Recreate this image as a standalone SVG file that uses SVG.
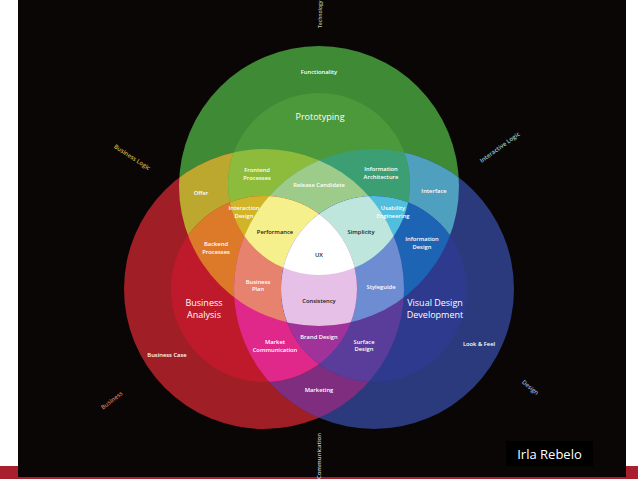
<svg xmlns="http://www.w3.org/2000/svg" width="638" height="479" viewBox="0 0 638 479">
<defs>
<style>
.l{font-family:"Open Sans","Liberation Sans",sans-serif;font-size:5.8px;font-weight:600;fill:#ffffff;text-anchor:middle}
.d{fill:#1a1a1a}
.b{font-size:9px;font-weight:400}
.ax{font-family:"Open Sans","Liberation Sans",sans-serif;font-size:6px;font-weight:600;text-anchor:middle}
.st{text-anchor:start}
</style>
<clipPath id="cGO"><circle cx="319" cy="186" r="140"/></clipPath>
<clipPath id="cRO"><circle cx="264" cy="289" r="140"/></clipPath>
<clipPath id="cBO"><circle cx="374" cy="289" r="140"/></clipPath>
<clipPath id="cRI"><circle cx="264" cy="289" r="93"/></clipPath>
<clipPath id="cBI"><circle cx="374" cy="289" r="93"/></clipPath>
<circle id="go" cx="319" cy="186" r="140"/>
<circle id="ro" cx="264" cy="289" r="140"/>
<circle id="bo" cx="374" cy="289" r="140"/>
<circle id="gi" cx="319" cy="184" r="91"/>
<circle id="ri" cx="264" cy="289" r="93"/>
<circle id="bi" cx="374" cy="289" r="93"/>
</defs>
<rect x="0" y="0" width="638" height="479" fill="#ffffff"/>
<rect x="0" y="466" width="638" height="13" fill="#a8202e"/>
<rect x="18" y="0" width="608" height="477" fill="#0a0606"/>

<g id="outer-circles">
<use href="#go" fill="#3f8a34"/>
<use href="#ro" fill="#a01e26"/>
<use href="#bo" fill="#2b3a7c"/>
<g clip-path="url(#cRO)"><use href="#go" fill="#bca82e"/></g>
<g clip-path="url(#cBO)"><use href="#go" fill="#4f9fbf"/></g>
<g clip-path="url(#cBO)"><use href="#ro" fill="#7f2d7f"/></g>
<g clip-path="url(#cRO)"><g clip-path="url(#cBO)"><use href="#go" fill="#b0a890"/></g></g>
</g>

<g id="inner-circles">
<use href="#gi" fill="#4c993c"/>
<g clip-path="url(#cRO)"><use href="#gi" fill="#8dbb3c"/></g>
<g clip-path="url(#cBO)"><use href="#gi" fill="#3c9f74"/></g>
<g clip-path="url(#cRO)"><g clip-path="url(#cBO)"><use href="#gi" fill="#9ccb8a"/></g></g>
<use href="#ri" fill="#be1a2c"/>
<g clip-path="url(#cGO)"><use href="#ri" fill="#dd7a2a"/></g>
<g clip-path="url(#cBO)"><use href="#ri" fill="#e0288a"/></g>
<g clip-path="url(#cGO)"><g clip-path="url(#cBO)"><use href="#ri" fill="#e6826e"/></g></g>
<use href="#bi" fill="#2d3a8e"/>
<g clip-path="url(#cGO)"><use href="#bi" fill="#1e64b4"/></g>
<g clip-path="url(#cRO)"><use href="#bi" fill="#5a3c9a"/></g>
<g clip-path="url(#cGO)"><g clip-path="url(#cRO)"><use href="#bi" fill="#6e8cd2"/></g></g>
<g clip-path="url(#cRI)"><use href="#gi" fill="#d2b428"/></g>
<g clip-path="url(#cRI)"><g clip-path="url(#cBO)"><use href="#gi" fill="#f5f08c"/></g></g>
<g clip-path="url(#cBI)"><use href="#gi" fill="#50bedc"/></g>
<g clip-path="url(#cBI)"><g clip-path="url(#cRO)"><use href="#gi" fill="#bee6dc"/></g></g>
<g clip-path="url(#cBI)"><use href="#ri" fill="#a0329a"/></g>
<g clip-path="url(#cBI)"><g clip-path="url(#cGO)"><use href="#ri" fill="#e6c0e6"/></g></g>
<g clip-path="url(#cRI)"><g clip-path="url(#cBI)"><use href="#gi" fill="#ffffff"/></g></g>
</g>

<g id="labels">
<text class="l" x="319" y="74">Functionality</text>
<text class="l b" x="320" y="120">Prototyping</text>
<text class="l" x="257" y="172">Frontend</text>
<text class="l" x="257" y="180">Processes</text>
<text class="l" x="381" y="171">Information</text>
<text class="l" x="381" y="179">Architecture</text>
<text class="l" x="201" y="195">Offer</text>
<text class="l" x="319" y="187">Release Candidate</text>
<text class="l" x="434" y="193">Interface</text>
<text class="l" x="244" y="210">Interaction</text>
<text class="l" x="244" y="218">Design</text>
<text class="l" x="393" y="210">Usability</text>
<text class="l" x="393" y="218">Engineering</text>
<text class="l d" x="275" y="234">Performance</text>
<text class="l d" x="361" y="234">Simplicity</text>
<text class="l" x="216" y="246">Backend</text>
<text class="l" x="216" y="254">Processes</text>
<text class="l" x="422" y="241">Information</text>
<text class="l" x="422" y="249">Design</text>
<text class="l d" x="319" y="257">UX</text>
<text class="l" x="258" y="284">Business</text>
<text class="l" x="258" y="291">Plan</text>
<text class="l" x="381" y="289">Styleguide</text>
<text class="l d" x="319" y="303">Consistency</text>
<text class="l b" x="204" y="306">Business</text>
<text class="l b" x="204" y="318">Analysis</text>
<text class="l b" x="435" y="306">Visual Design</text>
<text class="l b" x="435" y="318">Development</text>
<text class="l" x="319" y="339">Brand Design</text>
<text class="l" x="275" y="344">Market</text>
<text class="l" x="275" y="352">Communication</text>
<text class="l" x="364" y="344">Surface</text>
<text class="l" x="364" y="351">Design</text>
<text class="l" x="167" y="357">Business Case</text>
<text class="l" x="479" y="346">Look &amp; Feel</text>
<text class="l" x="319" y="392">Marketing</text>
</g>

<g id="axes">
<text class="ax st" fill="#b4c896" font-size="5" style="font-size:5px" transform="translate(322,28) rotate(-90)">Technology</text>
<text class="ax" fill="#c8b450" transform="translate(131,159) rotate(33)">Business Logic</text>
<text class="ax" fill="#96c8c8" transform="translate(501,149) rotate(-36)">Interactive Logic</text>
<text class="ax" fill="#c87a5a" transform="translate(113,402) rotate(-38)">Business</text>
<text class="ax" fill="#96aadc" transform="translate(529,389) rotate(40)">Design</text>
<text class="ax" fill="#c8c8c8" transform="translate(321,456) rotate(-90)">Communication</text>
</g>

<g id="credit">
<rect x="506" y="441" width="87" height="25" fill="#000000"/>
<text x="549.5" y="459" font-family="'Open Sans','Liberation Sans',sans-serif" font-size="13" fill="#ffffff" text-anchor="middle">Irla Rebelo</text>
</g>
</svg>
